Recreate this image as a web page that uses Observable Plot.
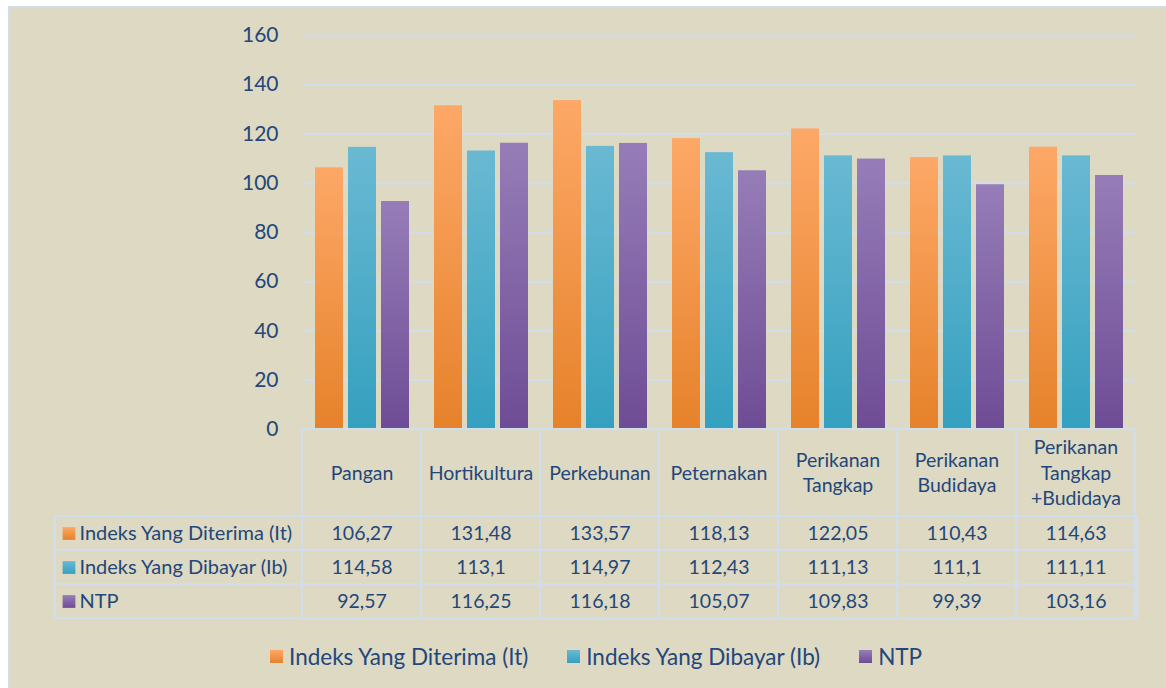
<!DOCTYPE html>
<html>
<head>
<meta charset="utf-8">
<script src="https://cdn.jsdelivr.net/npm/d3@7"></script>
<script src="https://cdn.jsdelivr.net/npm/@observablehq/plot@0.6"></script>
<style>
html,body{margin:0;padding:0;background:#fff;}
#wrap{position:relative;width:1166px;height:688px;overflow:hidden;font-family:Lato,"Open Sans",sans-serif;}
#frame{position:absolute;left:8px;top:6px;width:1160px;height:690px;background:#DDD9C3;border:2px solid #CEDCEC;box-sizing:border-box;}
.layer{position:absolute;left:0;}
#legend{left:270px;top:640px;}
#legend .lg-swatch{margin-right:39px !important;}
#legend .lg-swatch > svg{margin-right:6px !important;}
</style>
</head>
<body>
<svg width="0" height="0" style="position:absolute">
  <defs id="grads"></defs>
</svg>
<div id="wrap">
  <div id="frame"></div>
  <div id="chart" class="layer" style="top:0"></div>
  <div id="table" class="layer" style="top:429px"></div>
  <div id="legend" class="layer"></div>
</div>
<script>
// ---- data ----
const categories = ["Pangan","Hortikultura","Perkebunan","Peternakan","Perikanan Tangkap","Perikanan Budidaya","Perikanan Tangkap +Budidaya"];
const categoryLabels = ["Pangan","Hortikultura","Perkebunan","Peternakan","Perikanan\nTangkap","Perikanan\nBudidaya","Perikanan\nTangkap\n+Budidaya"];
const seriesNames = ["Indeks Yang Diterima (It)","Indeks Yang Dibayar (Ib)","NTP"];
const indeksDiterima = [106.27,131.48,133.57,118.13,122.05,110.43,114.63];
const indeksDibayar = [114.58,113.1,114.97,112.43,111.13,111.1,111.11];
const ntp = [92.57,116.25,116.18,105.07,109.83,99.39,103.16];
const yTicks = [0,20,40,60,80,100,120,140,160];

// ---- styles ----
const gradStops = [["#FDA867","#E6822A"],["#6AB9D3","#34A0BF"],["#967DB8","#6E4C95"]];
const textColor = "#23477A";
const lineColor = "#D0DDED";

const defs = d3.select("#grads");
const gradUrls = gradStops.map((s,i) => {
  const g = defs.append("linearGradient").attr("id","g"+i).attr("x1",0).attr("y1",0).attr("x2",0).attr("y2",1);
  g.append("stop").attr("offset","0%").attr("stop-color",s[0]);
  g.append("stop").attr("offset","100%").attr("stop-color",s[1]);
  return `url(#g${i})`;
});

const seriesValues = [indeksDiterima, indeksDibayar, ntp];
const data = categories.flatMap((c,i) => seriesNames.map((s,j) => ({category:c, series:s, value:seriesValues[j][i]})));
const fmt = v => String(v).replace(".", ",");

const chart = Plot.plot({
  width:1166, height:430,
  marginLeft:299, marginRight:29, marginTop:35, marginBottom:1,
  style:{background:"transparent", fontFamily:"Lato, sans-serif", fontSize:"21px", color:textColor, overflow:"visible"},
  fx:{domain:categories, padding:0, axis:null, label:null},
  x:{domain:seriesNames, paddingInner:0.164, paddingOuter:0.37, axis:null},
  y:{domain:[0,160], ticks:yTicks, tickSize:0, tickPadding:24, label:null},
  color:{domain:seriesNames, range:gradUrls},
  marks:[
    Plot.ruleY(yTicks.slice(1), {stroke:lineColor, strokeWidth:2}),
    Plot.barY(data, {fx:"category", x:"series", y:"value", fill:"series"})
  ]
});
document.getElementById("chart").appendChild(chart);

const table = Plot.plot({
  width:1166, height:192,
  marginLeft:299, marginRight:29, marginTop:86, marginBottom:2,
  style:{background:"transparent", fontFamily:"Lato, sans-serif", fontSize:"19.5px", color:textColor, overflow:"visible"},
  x:{domain:categories, padding:0, axis:null},
  y:{domain:seriesNames, padding:0, axis:null},
  color:{domain:seriesNames, range:gradUrls},
  marks:[
    Plot.cell(categories, {x:d=>d, insetTop:-86, fill:"none", stroke:lineColor, strokeWidth:2}),
    Plot.cell(seriesNames, {y:d=>d, insetLeft:-244, fill:"none", stroke:lineColor, strokeWidth:2}),
    Plot.text(categories, {x:d=>d, text:(d,i)=>categoryLabels[i], frameAnchor:"top", dy:-44, lineAnchor:"middle", lineHeight:1.3, fill:"currentColor"}),
    Plot.text(data, {x:"category", y:"series", text:d=>fmt(d.value), fill:"currentColor"}),
    Plot.text(seriesNames, {y:d=>d, text:d=>d, frameAnchor:"left", textAnchor:"start", dx:-220, fill:"currentColor", fontSize:20}),
    Plot.dot(seriesNames, {y:d=>d, frameAnchor:"left", dx:-230.5, symbol:"square", r:7.2, fill:d=>d})
  ]
});
document.getElementById("table").appendChild(table);

const legend = Plot.legend({
  color:{type:"ordinal", domain:seriesNames, range:gradUrls},
  swatchSize:13, className:"lg",
  style:{fontFamily:"Lato, sans-serif", fontSize:"22.5px", color:textColor, background:"transparent"}
});
document.getElementById("legend").appendChild(legend);
</script>
</body>
</html>
